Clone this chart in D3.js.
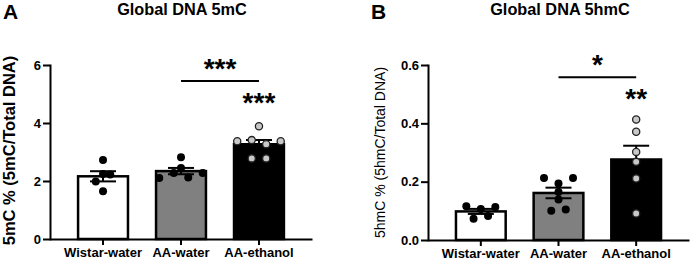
<!DOCTYPE html>
<html>
<head>
<meta charset="utf-8">
<script src="https://cdn.jsdelivr.net/npm/d3@7"></script>
<style>
  body { margin: 0; background: #fff; }
  text { font-family: "Liberation Sans", Arial, sans-serif; }
</style>
</head>
<body>
<div id="chart"></div>
<script>
// groups on the x axis
var groups = ["Wistar-water", "AA-water", "AA-ethanol"];

// Global DNA 5mC, individual animals (%)
var mcWistarWater = [2.72, 2.24, 1.98, 2.22, 1.65];
var mcAAWater = [2.82, 2.45, 2.10, 2.28, 2.12, 2.28];
var mcAAEthanol = [3.89, 3.37, 3.41, 3.27, 3.37, 2.78, 2.78];
var mcTicks = [0, 2, 4, 6];

// Global DNA 5hmC, individual animals (%)
var hmcWistarWater = [0.116, 0.106, 0.113, 0.073, 0.082];
var hmcAAWater = [0.213, 0.194, 0.213, 0.165, 0.139, 0.100, 0.105];
var hmcAAEthanol = [0.413, 0.371, 0.302, 0.268, 0.211, 0.091];
var hmcTicks = [0, 0.2, 0.4, 0.6];

// significance marks
var mcStars = { pair: ["AA-water", "AA-ethanol"], pairLabel: "***", vsControl: "***" };
var hmcStars = { pair: ["AA-water", "AA-ethanol"], pairLabel: "*", vsControl: "**" };

var fills = ["#ffffff", "#808080", "#000000"];
var dotFills = ["#000000", "#000000", "#c8c8c8"];

var svg = d3.select("#chart")
    .append("svg")
    .attr("width", 692)
    .attr("height", 262);

// spread points that sit at almost the same height side by side
function swarm(vals, y, spacing, bin) {
    var out = [], grp = [];
    function flush() {
        grp.forEach(function (v, i) {
            out.push({ v: v, dx: (i - (grp.length - 1) / 2) * spacing });
        });
        grp = [];
    }
    vals.forEach(function (v) {
        if (grp.length && Math.abs(y(v) - y(grp[0])) > bin) flush();
        grp.push(v);
    });
    flush();
    return out;
}

function panel(o) {
    var g = svg.append("g");

    var x = d3.scaleBand()
        .domain(groups)
        .range([o.left, o.right])
        .paddingInner(0.36)
        .paddingOuter(0.36);

    var y = d3.scaleLinear()
        .domain(o.domain)
        .range([o.bottom, o.top]);

    // panel letter and title
    g.append("text")
        .attr("x", o.letterX).attr("y", 18.5)
        .attr("font-size", 21).attr("font-weight", "bold")
        .text(o.letter);
    g.append("text")
        .attr("x", o.titleX).attr("y", 14.5)
        .attr("text-anchor", "middle")
        .attr("font-size", 16.3).attr("font-weight", "bold")
        .text(o.title);

    // y label
    g.append("text")
        .attr("transform", "translate(" + o.yLabelX + "," + o.yLabelY + ") rotate(-90)")
        .attr("text-anchor", "middle")
        .attr("font-size", o.yLabelSize)
        .attr("font-weight", o.yLabelWeight)
        .text(o.yLabel);

    var stats = o.series.map(function (vals, i) {
        var m = d3.mean(vals);
        var sem = d3.deviation(vals) / Math.sqrt(vals.length);
        return { g: groups[i], vals: vals, mean: m, sem: sem, i: i };
    });

    // bars
    g.selectAll(".bar")
        .data(stats)
        .enter().append("rect")
        .attr("x", function (d) { return x(d.g); })
        .attr("y", function (d) { return y(d.mean); })
        .attr("width", x.bandwidth())
        .attr("height", function (d) { return y(0) - y(d.mean); })
        .attr("fill", function (d) { return fills[d.i]; })
        .attr("stroke", "#000")
        .attr("stroke-width", 2.5);

    // error bars (mean +/- SEM)
    var cap = 13;
    stats.forEach(function (d) {
        var cx = x(d.g) + x.bandwidth() / 2;
        var eb = g.append("g").attr("stroke", "#000").attr("stroke-width", 2);
        eb.append("line")
            .attr("x1", cx).attr("x2", cx)
            .attr("y1", y(d.mean - d.sem)).attr("y2", y(d.mean + d.sem));
        [d.mean - d.sem, d.mean + d.sem].forEach(function (v) {
            eb.append("line")
                .attr("x1", cx - cap).attr("x2", cx + cap)
                .attr("y1", y(v)).attr("y2", y(v));
        });
    });

    // individual points
    stats.forEach(function (d) {
        var cx = x(d.g) + x.bandwidth() / 2;
        g.selectAll(null)
            .data(swarm(d.vals, y, 14.5, 7))
            .enter().append("circle")
            .attr("cx", function (p) { return cx + p.dx; })
            .attr("cy", function (p) { return y(p.v); })
            .attr("r", d.i === 2 ? 3.6 : 4)
            .attr("fill", dotFills[d.i])
            .attr("stroke", d.i === 2 ? "#222" : "none")
            .attr("stroke-width", 1.3);
    });

    // axes
    var ya = g.append("g")
        .attr("transform", "translate(" + o.left + ",0)")
        .call(d3.axisLeft(y).tickValues(o.ticks).tickSize(7).tickSizeOuter(0)
            .tickPadding(2).tickFormat(o.fmt));
    var xa = g.append("g")
        .attr("transform", "translate(0," + o.bottom + ")")
        .call(d3.axisBottom(x).tickSize(6).tickSizeOuter(0).tickPadding(3));
    [ya, xa].forEach(function (a) {
        a.selectAll("path, line").attr("stroke", "#000").attr("stroke-width", 2);
        a.selectAll("text")
            .attr("fill", "#000")
            .attr("font-size", 13)
            .attr("font-weight", "bold")
            .style("font-family", "'Liberation Sans', Arial, sans-serif");
    });
    ya.select(".domain").attr("stroke-linecap", "square");

    // significance
    var xa1 = x(o.stars.pair[0]) + x.bandwidth() / 2;
    var xa2 = x(o.stars.pair[1]) + x.bandwidth() / 2;
    g.append("line")
        .attr("x1", xa1).attr("x2", xa2)
        .attr("y1", y(o.lineAt)).attr("y2", y(o.lineAt))
        .attr("stroke", "#000").attr("stroke-width", 2);
    g.append("text")
        .attr("x", (xa1 + xa2) / 2).attr("y", y(o.lineAt) - 3)
        .attr("text-anchor", "middle")
        .attr("font-size", 28).attr("font-weight", "bold")
        .text(o.stars.pairLabel);
    g.append("text")
        .attr("x", xa2).attr("y", y(o.lineAt) + 31)
        .attr("text-anchor", "middle")
        .attr("font-size", 28).attr("font-weight", "bold")
        .text(o.stars.vsControl);
}

panel({
    letter: "A", letterX: 3, title: "Global DNA 5mC", titleX: 182,
    yLabel: "5mC % (5mC/Total DNA)", yLabelX: 15, yLabelY: 150.5,
    yLabelSize: 16.5, yLabelWeight: "bold",
    left: 50, right: 312, top: 65, bottom: 239,
    domain: [0, 6], ticks: mcTicks, fmt: d3.format("d"),
    series: [mcWistarWater, mcAAWater, mcAAEthanol],
    stars: mcStars, lineAt: 5.45
});

panel({
    letter: "B", letterX: 371, title: "Global DNA 5hmC", titleX: 560,
    yLabel: "5hmC % (5hmC/Total DNA)", yLabelX: 385, yLabelY: 152.5,
    yLabelSize: 14, yLabelWeight: "normal",
    left: 428, right: 689, top: 65, bottom: 240,
    domain: [0, 0.6], ticks: hmcTicks, fmt: d3.format(".1f"),
    series: [hmcWistarWater, hmcAAWater, hmcAAEthanol],
    stars: hmcStars, lineAt: 0.558
});
</script>
</body>
</html>
